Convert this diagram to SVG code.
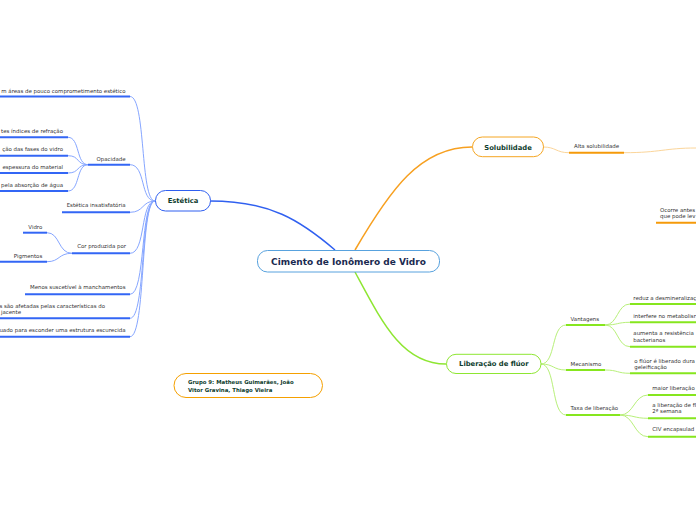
<svg xmlns="http://www.w3.org/2000/svg" width="696" height="520" viewBox="0 0 696 520">
<style>
.t{font-family:"DejaVu Sans",Verdana,sans-serif;font-size:5.45px;fill:#333}
.tr{text-anchor:end}
.nb{font-family:"DejaVu Sans",Verdana,sans-serif;font-weight:bold;font-size:6.8px;fill:#0f3d2e;text-anchor:middle}
.ub{stroke:#3366f5;stroke-width:2;fill:none}
.cb{stroke:#86a6ff;stroke-width:1;fill:none}
.uo{stroke:#f59a0a;stroke-width:2;fill:none}
.co{stroke:#fbd59a;stroke-width:1;fill:none}
.ug{stroke:#86e61e;stroke-width:2;fill:none}
.cg{stroke:#b8f07a;stroke-width:1;fill:none}
</style>
<rect width="696" height="520" fill="#fff"/>
<g id="connectors">
<path d="M210,201 C270,201 300,220 335,250" stroke="#3060f0" stroke-width="1.5" fill="none"/>
<path d="M355,250 C390,190 420,147 472,147" stroke="#f7a020" stroke-width="1.5" fill="none"/>
<path d="M355,272 C382,322 402,364 446,364" stroke="#8ee632" stroke-width="1.5" fill="none"/>
<path class="cb" d="M155,201 C140,201 146,96.5 130,96.5"/>
<path class="cb" d="M155,201 C140,201 146,164.7 130,164.7"/>
<path class="cb" d="M155,201 C142,201 144,212.3 130,212.3"/>
<path class="cb" d="M155,201 C140,201 146,253.3 130,253.3"/>
<path class="cb" d="M155,201 C140,201 146,294.3 130,294.3"/>
<path class="cb" d="M155,201 C140,201 146,318.3 130,318.3"/>
<path class="cb" d="M155,201 C140,201 146,336.7 130,336.7"/>
<path class="cb" d="M88,164.7 C76,164.7 80,137.3 68,137.3"/>
<path class="cb" d="M88,164.7 C76,164.7 80,155.7 68,155.7"/>
<path class="cb" d="M88,164.7 C76,164.7 80,173 68,173"/>
<path class="cb" d="M88,164.7 C76,164.7 80,191 68,191"/>
<path class="cb" d="M72,253.3 C58,253.3 60,232.7 47,232.7"/>
<path class="cb" d="M72,253.3 C58,253.3 60,261.7 47,261.7"/>
<path class="co" d="M543,147 C556,147 556,152.7 569,152.7"/>
<path class="co" d="M624,152.7 C660,152.7 665,148 696,148"/>
<path class="cg" d="M541,364 C556,364 551,325 566,325"/>
<path class="cg" d="M541,364 C554,364 553,370 566,370"/>
<path class="cg" d="M541,364 C556,364 551,415 566,415"/>
<path class="cg" d="M605,325 C618,325 617,304 630,304"/>
<path class="cg" d="M605,325 C618,325 617,322.3 630,322.3"/>
<path class="cg" d="M605,325 C618,325 617,346.7 630,346.7"/>
<path class="cg" d="M605,370 C618,370 617,373.3 630,373.3"/>
<path class="cg" d="M620,415 C634,415 634,395 648,395"/>
<path class="cg" d="M620,415 C634,415 634,418.3 648,418.3"/>
<path class="cg" d="M620,415 C634,415 634,436.7 648,436.7"/>
</g>
<g id="central">
<rect x="257.5" y="250.5" width="182" height="21.5" rx="10" fill="#fff" stroke="#58a2de" stroke-width="1"/>
<text x="348.5" y="264.5" font-family="DejaVu Sans,Verdana,sans-serif" font-weight="bold" font-size="9px" fill="#1a2a50" text-anchor="middle">Cimento de Ionômero de Vidro</text>
</g>
<g id="estetica">
<rect x="155.5" y="190.5" width="55" height="20.5" rx="10" fill="#fff" stroke="#2f5ff0" stroke-width="1"/>
<text class="nb" x="183" y="203.3">Estética</text>
</g>
<g id="solubilidade">
<rect x="472.5" y="137" width="71" height="19.7" rx="9.8" fill="#fff" stroke="#f5a623" stroke-width="1"/>
<text class="nb" x="508" y="149.5">Solubilidade</text>
</g>
<g id="liberacao">
<rect x="446.5" y="354.3" width="94.5" height="19.2" rx="9.5" fill="#fff" stroke="#8ee632" stroke-width="1"/>
<text class="nb" x="493.8" y="366.3">Liberação de flúor</text>
</g>
<g id="grupo">
<rect x="174" y="373.5" width="148.5" height="24" rx="12" fill="#fff" stroke="#f5a000" stroke-width="1"/>
<text font-family="DejaVu Sans,Verdana,sans-serif" font-weight="bold" font-size="5.4px" fill="#0f3d2e"><tspan x="188" y="384.3">Grupo 9: Matheus Guimarães, João</tspan><tspan x="188" y="391.5">Vitor Gravina, Thiago Vieira</tspan></text>
</g>
<g id="n-estetico">
<text class="t tr" x="125.5" y="92.7">m áreas de pouco comprometimento estético</text>
<path class="ub" d="M0,96.5 H130"/>
</g>
<g id="n-opacidade">
<text class="t" x="96.5" y="160.7">Opacidade</text>
<path class="ub" d="M88,164.7 H130"/>
</g>
<g id="n-refracao">
<text class="t tr" x="63" y="133.3">tes índices de refração</text>
<path class="ub" d="M0,137.3 H68"/>
</g>
<g id="n-fases">
<text class="t tr" x="63" y="151.3">ção das fases do vidro</text>
<path class="ub" d="M0,155.7 H68"/>
</g>
<g id="n-espessura">
<text class="t tr" x="63" y="169.3">espessura do material</text>
<path class="ub" d="M0,173 H68"/>
</g>
<g id="n-agua">
<text class="t tr" x="63" y="187.3">pela absorção de água</text>
<path class="ub" d="M0,191 H68"/>
</g>
<g id="n-insatisfatoria">
<text class="t tr" x="125.5" y="206.7">Estética insatisfatória</text>
<path class="ub" d="M62,212.3 H130"/>
</g>
<g id="n-cor">
<text class="t tr" x="126" y="248.3">Cor produzida por</text>
<path class="ub" d="M72,253.3 H130"/>
</g>
<g id="n-vidro">
<text class="t tr" x="42.3" y="228.5">Vidro</text>
<path class="ub" d="M23,232.7 H47"/>
</g>
<g id="n-pigmentos">
<text class="t tr" x="42.3" y="257.5">Pigmentos</text>
<path class="ub" d="M0,261.7 H47"/>
</g>
<g id="n-manchamentos">
<text class="t tr" x="125.5" y="289.3">Menos suscetível à manchamentos</text>
<path class="ub" d="M25,294.3 H130"/>
</g>
<g id="n-afetadas">
<text class="t tr" x="105" y="307.5">s são afetadas pelas características do</text>
<text class="t tr" x="21" y="314">jacente</text>
<path class="ub" d="M0,318.3 H130"/>
</g>
<g id="n-esconder">
<text class="t tr" x="125.5" y="331.5">uado para esconder uma estrutura escurecida</text>
<path class="ub" d="M0,336.7 H130"/>
</g>
<g id="n-alta">
<text class="t" x="574" y="148.3">Alta solubilidade</text>
<path class="uo" d="M569,152.7 H624"/>
</g>
<g id="n-ocorre">
<text class="t" x="660" y="212.3">Ocorre antes</text>
<text class="t" x="660" y="218.3">que pode lev</text>
<path class="uo" d="M656,222.7 H696"/>
</g>
<g id="n-vantagens">
<text class="t" x="570.5" y="320.5">Vantagens</text>
<path class="ug" d="M566,325 H605"/>
</g>
<g id="n-reduz">
<text class="t" x="633.3" y="299.8">reduz a desmineralizaç</text>
<path class="ug" d="M630,304 H696"/>
</g>
<g id="n-interfere">
<text class="t" x="633.3" y="318">interfere no metabolisr</text>
<path class="ug" d="M630,322.3 H696"/>
</g>
<g id="n-aumenta">
<text class="t" x="633.3" y="335.3">aumenta a resistência</text>
<text class="t" x="633.3" y="341.5">bacterianos</text>
<path class="ug" d="M630,346.7 H696"/>
</g>
<g id="n-mecanismo">
<text class="t" x="570.5" y="366">Mecanismo</text>
<path class="ug" d="M566,370 H605"/>
</g>
<g id="n-liberado">
<text class="t" x="634.3" y="362.5">o flúor é liberado dura</text>
<text class="t" x="634.3" y="368.8">geleificação</text>
<path class="ug" d="M630,373.3 H696"/>
</g>
<g id="n-taxa">
<text class="t" x="570.5" y="410.3">Taxa de liberação</text>
<path class="ug" d="M566,415 H620"/>
</g>
<g id="n-maior">
<text class="t" x="652.3" y="390">maior liberação</text>
<path class="ug" d="M648,395 H696"/>
</g>
<g id="n-semana">
<text class="t" x="652.3" y="406.5">a liberação de fl</text>
<text class="t" x="652.3" y="412.8">2ª semana</text>
<path class="ug" d="M648,418.3 H696"/>
</g>
<g id="n-civ">
<text class="t" x="652.3" y="431">CIV encapsulad</text>
<path class="ug" d="M648,436.7 H696"/>
</g>
</svg>
